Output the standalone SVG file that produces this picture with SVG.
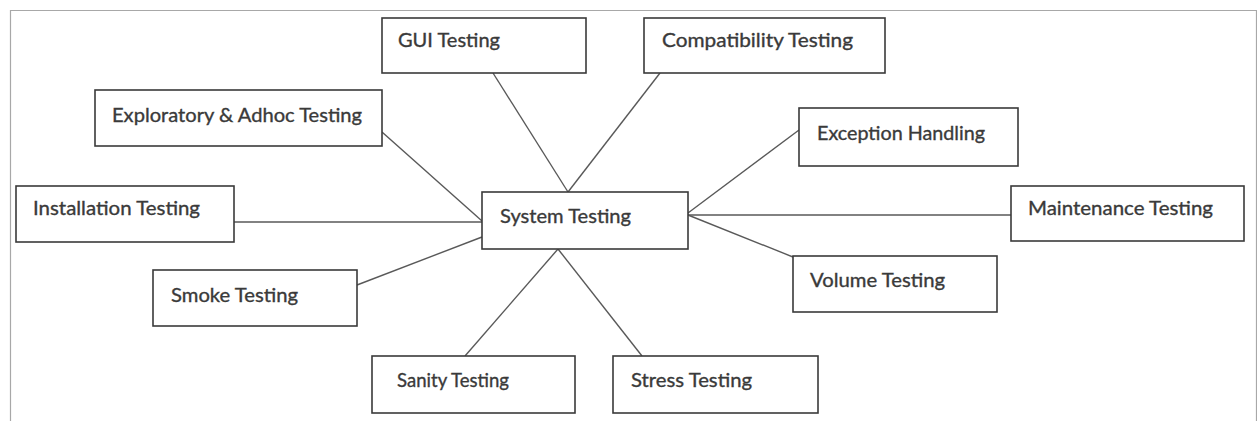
<svg xmlns="http://www.w3.org/2000/svg" width="1257" height="421" viewBox="0 0 1257 421">
  <style>
    .box { fill: #ffffff; stroke: #3a3a3a; stroke-width: 1.6; }
    .lbl { font-family: Lato, "Open Sans", "Liberation Sans", sans-serif; font-size: 19.5px; fill: #3a3a3a; stroke: #3a3a3a; stroke-width: 0.35; }
    .conn line { stroke: #595959; stroke-width: 1.4; }
    .frame { stroke: #a8a8a8; stroke-width: 1.2; fill: none; }
  </style>
  <rect x="0" y="0" width="1257" height="421" fill="#ffffff"/>
  <path class="frame" d="M10.5,421 V10.5 H1256.5 V421"/>

  <g id="connectors" class="conn">
    <line x1="493" y1="73" x2="568" y2="192"/>
    <line x1="660" y1="73" x2="568" y2="192"/>
    <line x1="382" y1="132" x2="482" y2="221"/>
    <line x1="234" y1="222" x2="482" y2="222"/>
    <line x1="357" y1="285" x2="482" y2="237"/>
    <line x1="465" y1="356" x2="558" y2="249"/>
    <line x1="642" y1="356" x2="558" y2="249"/>
    <line x1="799" y1="130" x2="688" y2="213"/>
    <line x1="688" y1="215" x2="1011" y2="215"/>
    <line x1="688" y1="215" x2="793" y2="257"/>
  </g>

  <g id="system-testing">
    <rect class="box" x="482" y="192" width="206" height="57"/>
    <text class="lbl" x="500" y="223" textLength="131" lengthAdjust="spacingAndGlyphs">System Testing</text>
  </g>
  <g id="gui-testing">
    <rect class="box" x="382" y="18" width="204" height="55"/>
    <text class="lbl" x="398" y="47" textLength="102" lengthAdjust="spacingAndGlyphs">GUI Testing</text>
  </g>
  <g id="compatibility-testing">
    <rect class="box" x="644" y="18" width="241" height="55"/>
    <text class="lbl" x="662" y="47" textLength="191" lengthAdjust="spacingAndGlyphs">Compatibility Testing</text>
  </g>
  <g id="exploratory-testing">
    <rect class="box" x="95" y="90" width="287" height="56"/>
    <text class="lbl" x="112" y="122" textLength="250" lengthAdjust="spacingAndGlyphs">Exploratory &amp; Adhoc Testing</text>
  </g>
  <g id="installation-testing">
    <rect class="box" x="16" y="186" width="218" height="56"/>
    <text class="lbl" x="33" y="215" textLength="167" lengthAdjust="spacingAndGlyphs">Installation Testing</text>
  </g>
  <g id="smoke-testing">
    <rect class="box" x="153" y="270" width="204" height="56"/>
    <text class="lbl" x="171" y="302" textLength="127" lengthAdjust="spacingAndGlyphs">Smoke Testing</text>
  </g>
  <g id="sanity-testing">
    <rect class="box" x="372" y="356" width="203" height="57"/>
    <text class="lbl" x="397" y="387" textLength="112" lengthAdjust="spacingAndGlyphs">Sanity Testing</text>
  </g>
  <g id="stress-testing">
    <rect class="box" x="613" y="356" width="205" height="57"/>
    <text class="lbl" x="631" y="387" textLength="121" lengthAdjust="spacingAndGlyphs">Stress Testing</text>
  </g>
  <g id="exception-handling">
    <rect class="box" x="799" y="108" width="219" height="58"/>
    <text class="lbl" x="817" y="140" textLength="168" lengthAdjust="spacingAndGlyphs">Exception Handling</text>
  </g>
  <g id="maintenance-testing">
    <rect class="box" x="1011" y="186" width="233" height="55"/>
    <text class="lbl" x="1028" y="215" textLength="185" lengthAdjust="spacingAndGlyphs">Maintenance Testing</text>
  </g>
  <g id="volume-testing">
    <rect class="box" x="793" y="256" width="204" height="56"/>
    <text class="lbl" x="810" y="287" textLength="135" lengthAdjust="spacingAndGlyphs">Volume Testing</text>
  </g>
</svg>
